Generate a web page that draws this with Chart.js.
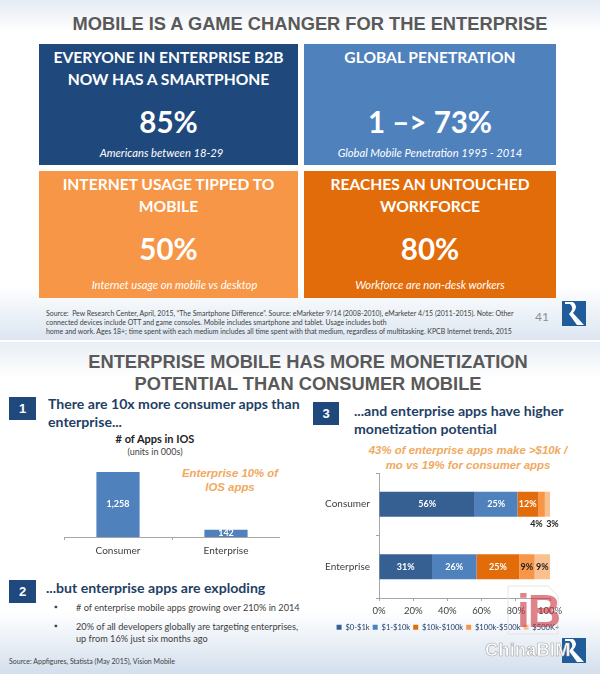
<!DOCTYPE html>
<html>
<head>
<meta charset="utf-8">
<script src="https://cdn.jsdelivr.net/npm/chart.js@4"></script>
<style>
html, body { margin: 0; padding: 0; }
body { width: 600px; height: 674px; position: relative; overflow: hidden; background: #fff; font-family: Lato, sans-serif; }
.bg { position: absolute; left: 0; width: 600px; }
.box { position: absolute; }
.t { position: absolute; transform: translateY(-50%); white-space: nowrap; }
.c { text-align: center; }
.head { color: #fff; font-weight: 700; font-size: 15.6px; }
.big { color: #fff; font-weight: 700; font-size: 29.5px; }
.sub { color: #fff; font-style: italic; font-size: 11.2px; }
.title { color: #595959; font-family: "Liberation Sans", sans-serif; font-weight: 700; font-size: 18.3px; }
.src { color: #404040; font-size: 6.95px; left: 46px; }
.badge { position: absolute; background: #1f497d; color: #fff; font: 700 13px "Liberation Sans", sans-serif; display: flex; align-items: center; justify-content: center; }
.step { color: #1f3f66; font-weight: 700; font-size: 14.1px; }
.note { color: #f0a95e; font: italic 700 11.4px "Liberation Sans", sans-serif; }
.body { color: #404040; font-size: 9.2px; }
canvas { position: absolute; }
</style>
</head>
<body>
<div class="bg" style="top:0;height:340px;background:linear-gradient(#e4ebf4 0,#fff 32px,#fff 285px,#dce6f1 340px)"></div>
<div class="bg" style="top:342px;height:332px;background:linear-gradient(#e8eef5 0,#fff 35px,#fff 270px,#d3dfed 332px)"></div>

<div class="t c title" style="left:0;width:620px;top:24px">MOBILE IS A GAME CHANGER FOR THE ENTERPRISE</div>

<div class="box" style="left:39px;top:44px;width:259px;height:121px;background:#1f497d"></div>
<div class="box" style="left:304px;top:44px;width:252px;height:121px;background:#4f81bd"></div>
<div class="box" style="left:39px;top:171px;width:259px;height:127px;background:#f79646"></div>
<div class="box" style="left:304px;top:171px;width:252px;height:127px;background:#e36c0a"></div>

<div class="t c head" style="left:39px;width:259px;top:57px">EVERYONE IN ENTERPRISE B2B</div>
<div class="t c head" style="left:39px;width:259px;top:79px">NOW HAS A SMARTPHONE</div>
<div class="t c big" style="left:39px;width:259px;top:121px">85%</div>
<div class="t c sub" style="left:39px;width:245px;top:152px">Americans between 18-29</div>

<div class="t c head" style="left:304px;width:252px;top:57px">GLOBAL PENETRATION</div>
<div class="t c big" style="left:304px;width:252px;top:121px">1 –&gt; 73%</div>
<div class="t c sub" style="left:304px;width:252px;top:152px">Global Mobile Penetration 1995 - 2014</div>

<div class="t c head" style="left:39px;width:259px;top:184px">INTERNET USAGE TIPPED TO</div>
<div class="t c head" style="left:39px;width:259px;top:206px">MOBILE</div>
<div class="t c big" style="left:39px;width:259px;top:248px">50%</div>
<div class="t c sub" style="left:45px;width:259px;top:284px">Internet usage on mobile vs desktop</div>

<div class="t c head" style="left:304px;width:252px;top:184px">REACHES AN UNTOUCHED</div>
<div class="t c head" style="left:304px;width:252px;top:206px">WORKFORCE</div>
<div class="t c big" style="left:304px;width:252px;top:248px">80%</div>
<div class="t c sub" style="left:304px;width:252px;top:284px">Workforce are non-desk workers</div>

<div class="t src" style="top:313px">Source:&nbsp; Pew Research Center, April, 2015, “The Smartphone Difference”. Source: eMarketer 9/14 (2008-2010), eMarketer 4/15 (2011-2015). Note: Other</div>
<div class="t src" style="top:322px">connected devices include OTT and game consoles. Mobile includes smartphone and tablet. Usage includes both</div>
<div class="t src" style="top:331px">home and work. Ages 18+; time spent with each medium includes all time spent with that medium, regardless of multitasking. KPCB Internet trends, 2015</div>
<div class="t" style="left:535px;top:316px;color:#8a8f96;font-size:12px">41</div>
<svg class="box" style="left:562px;top:301px" width="24" height="25"><rect width="24" height="25" fill="#1f5c99"/><path d="M3 1H11Q17 5 11 12L22 24H15L7 13Q13 7 8 3H3Z" fill="#fff"/></svg>

<div class="t c title" style="left:0;width:616px;top:362px">ENTERPRISE MOBILE HAS MORE MONETIZATION</div>
<div class="t c title" style="left:0;width:616px;top:384px">POTENTIAL THAN CONSUMER MOBILE</div>

<div class="badge" style="left:9px;top:397px;width:27px;height:23px">1</div>
<div class="t step" style="left:48px;top:403px">There are 10x more consumer apps than</div>
<div class="t step" style="left:48px;top:421px">enterprise...</div>
<div class="t c" style="left:55px;width:200px;top:438px;font-size:11px;font-weight:700;color:#222">#&nbsp;of Apps in IOS</div>
<div class="t c" style="left:55px;width:200px;top:451px;font-size:9px;color:#444">(units in 000s)</div>
<div class="t c note" style="left:150px;width:160px;top:473px">Enterprise 10% of</div>
<div class="t c note" style="left:150px;width:160px;top:487px">IOS apps</div>
<canvas id="appsChart" style="left:64px;top:462px;width:216px;height:100px"></canvas>

<div class="badge" style="left:9px;top:580px;width:27px;height:23px">2</div>
<div class="t step" style="left:46px;top:587px">...but enterprise apps are exploding</div>
<div class="t" style="left:54px;top:606px;font-size:9px;color:#404040">▪</div>
<div class="t body" style="left:76px;top:607px"># of enterprise mobile apps growing over 210% in 2014</div>
<div class="t" style="left:54px;top:625px;font-size:9px;color:#404040">▪</div>
<div class="t body" style="left:76px;top:626px">20% of all developers globally are targeting enterprises,</div>
<div class="t body" style="left:76px;top:638px">up from 16% just six months ago</div>
<div class="t" style="left:9px;top:661px;font-size:7px;color:#404040">Source: Appfigures, Statista (May 2015), Vision Mobile</div>

<div class="badge" style="left:313px;top:402px;width:26px;height:23px">3</div>
<div class="t step" style="left:354px;top:410px">...and enterprise apps have higher</div>
<div class="t step" style="left:354px;top:428px">monetization potential</div>
<div class="t c note" style="left:318px;width:300px;top:450px">43% of enterprise apps make &gt;$10k /</div>
<div class="t c note" style="left:318px;width:300px;top:465px">mo vs 19% for consumer apps</div>
<canvas id="revenueChart" style="left:310px;top:461px;width:276px;height:180px"></canvas>

<svg class="box" style="left:562px;top:638px" width="24" height="25"><rect width="24" height="25" fill="#1f5c99"/><path d="M3 1H11Q17 5 11 12L22 24H15L7 13Q13 7 8 3H3Z" fill="#fff"/></svg>
<svg class="box" style="left:507px;top:585px" width="52" height="50"><path d="M1 1H41L51 11V49H1Z" fill="none" stroke="#e4e4e4"/></svg>
<div class="t" style="left:517px;top:611px;font:700 46px 'Liberation Sans',sans-serif;color:rgba(200,50,60,.6);letter-spacing:-2px">iB</div>
<div class="t" style="left:485px;top:650px;font:700 18.5px 'Liberation Sans',sans-serif;color:#fff;-webkit-text-stroke:.6px #a8a8a8">ChinaBIM</div>

<script>
const appCategories = ['Consumer', 'Enterprise'];
const appValues = [1258, 142];

const revenueCategories = ['Consumer', 'Enterprise'];
const band0to1k = [56, 31];
const band1to10k = [25, 26];
const band10to100k = [12, 25];
const band100to500k = [4, 9];
const band500kPlus = [3, 9];
const percentTicks = ['0%', '20%', '40%', '60%', '80%', '100%'];

Chart.defaults.font.family = 'Lato, sans-serif';
Chart.defaults.animation = false;
Chart.defaults.responsive = false;

// value labels, drawn at the middle of each bar segment
const segmentLabels = {
    id: 'segmentLabels',
    afterDatasetsDraw(chart, args, opts) {
        const ctx = chart.ctx;
        ctx.save();
        ctx.textAlign = 'center';
        ctx.textBaseline = 'middle';
        ctx.font = '700 ' + opts.size + 'px Lato, sans-serif';
        chart.data.datasets.forEach((ds, i) => {
            chart.getDatasetMeta(i).data.forEach((bar, j) => {
                const text = opts.format(ds.data[j]);
                const c = bar.getCenterPoint();
                const outside = opts.outside && opts.outside(ds.data[j], j, i);
                ctx.fillStyle = outside || ds.darkLabel ? '#222' : '#fff';
                if (outside) ctx.fillText(text, c.x + outside, bar.y + 20);
                else ctx.fillText(text, c.x, c.y);
            });
        });
        ctx.restore();
    }
};

const appsCanvas = document.getElementById('appsChart');
appsCanvas.width = 216;
appsCanvas.height = 100;
new Chart(appsCanvas, {
    type: 'bar',
    data: {
        labels: appCategories,
        datasets: [{ data: appValues, backgroundColor: '#4f81bd', barPercentage: 0.4, categoryPercentage: 1 }]
    },
    plugins: [segmentLabels],
    options: {
        devicePixelRatio: 1,
        layout: { padding: 0 },
        plugins: {
            legend: { display: false },
            tooltip: { enabled: false },
            segmentLabels: { size: 9, format: v => v.toLocaleString('en-US') }
        },
        scales: {
            x: {
                afterFit: s => { s.height = 25; },
                grid: { drawOnChartArea: false, color: '#a6a6a6', tickLength: 3 },
                border: { color: '#a6a6a6' },
                ticks: { color: '#404040', font: { size: 10 }, padding: 5 }
            },
            y: { display: false, min: 0, max: 1450 }
        }
    }
});

const revenueCanvas = document.getElementById('revenueChart');
revenueCanvas.width = 276;
revenueCanvas.height = 180;
const band = (label, data, color, darkLabel) => ({
    label, data, backgroundColor: color, barPercentage: 0.4, categoryPercentage: 1, darkLabel
});
new Chart(revenueCanvas, {
    type: 'bar',
    data: {
        labels: revenueCategories,
        datasets: [
            band('$0-$1k', band0to1k, '#376092'),
            band('$1-$10k', band1to10k, '#4f81bd'),
            band('$10k-$100k', band10to100k, '#e36c0a'),
            band('$100k-$500k', band100to500k, '#f79646', true),
            band('$500K+', band500kPlus, '#fac090', true)
        ]
    },
    plugins: [segmentLabels],
    options: {
        devicePixelRatio: 1,
        indexAxis: 'y',
        layout: { padding: { top: 2, right: 0, bottom: 0, left: 0 } },
        plugins: {
            tooltip: { enabled: false },
            legend: {
                position: 'bottom',
                labels: { boxWidth: 5, boxHeight: 5, padding: 3, color: '#1f3f66', font: { size: 7.6 } }
            },
            segmentLabels: {
                size: 9,
                format: v => v + '%',
                // the two thin consumer segments have their labels under the bar
                outside: (v, row, i) => row === 0 && i === 3 ? -5 : row === 0 && i === 4 ? 5 : 0
            }
        },
        scales: {
            x: {
                stacked: true,
                min: 0,
                max: 100,
                afterFit: s => { s.paddingRight = 36; },
                afterTickToLabelConversion: s => { s.ticks.forEach((t, i) => { t.label = percentTicks[i]; }); },
                grid: { drawOnChartArea: false, color: '#a6a6a6', tickLength: 3 },
                border: { color: '#a6a6a6' },
                ticks: { stepSize: 20, color: '#404040', font: { size: 9.5 }, padding: 4, maxRotation: 0 }
            },
            y: {
                stacked: true,
                afterFit: s => { s.width = 69; },
                grid: { drawOnChartArea: false, color: '#a6a6a6', tickLength: 3, offset: true },
                border: { color: '#a6a6a6' },
                ticks: { color: '#404040', font: { size: 10 }, padding: 6 }
            }
        }
    }
});
</script>
</body>
</html>
